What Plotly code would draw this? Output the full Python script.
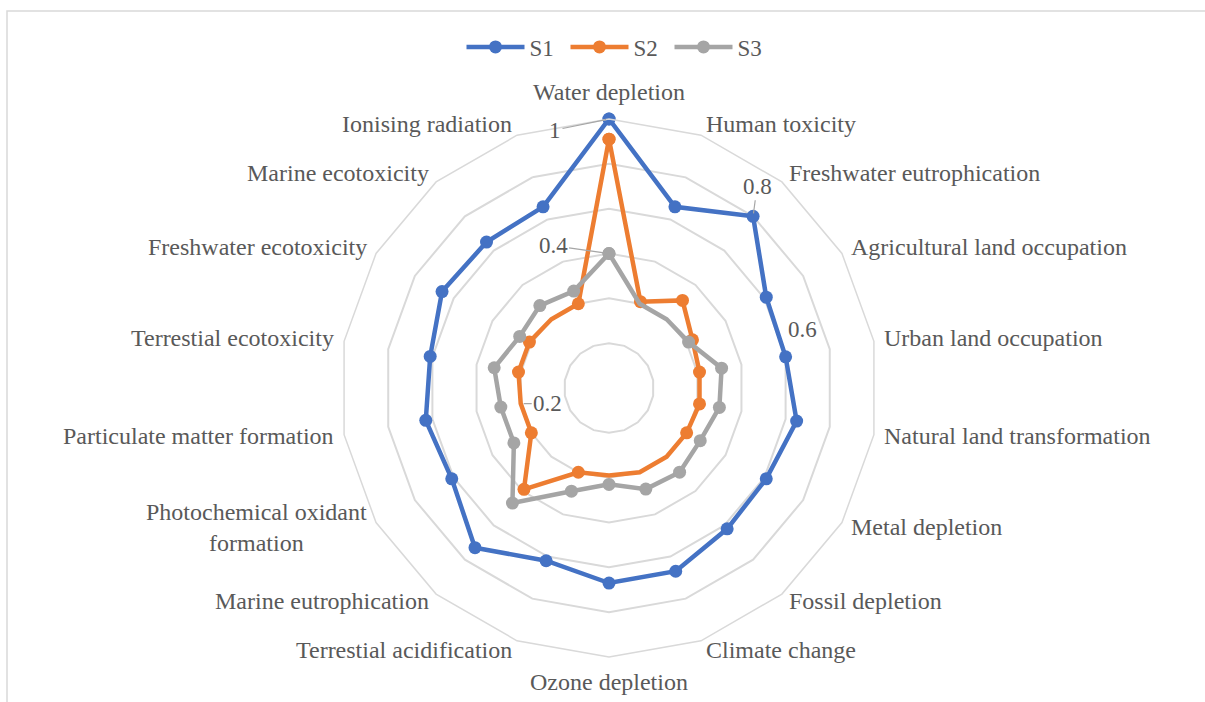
import plotly.graph_objects as go
import numpy as np

# Impact categories, clockwise from the top
categories = [
    "Water depletion",
    "Human toxicity",
    "Freshwater eutrophication",
    "Agricultural land occupation",
    "Urban land occupation",
    "Natural land transformation",
    "Metal depletion",
    "Fossil depletion",
    "Climate change",
    "Ozone depletion",
    "Terrestial acidification",
    "Marine eutrophication",
    "Photochemical oxidant<br>formation",
    "Particulate matter formation",
    "Terrestial ecotoxicity",
    "Freshwater ecotoxicity",
    "Marine ecotoxicity",
    "Ionising radiation",
]

s1 = [1.0, 0.66, 0.8, 0.61, 0.6, 0.65, 0.61, 0.62, 0.67, 0.67, 0.62, 0.73, 0.61, 0.63, 0.61, 0.66, 0.65, 0.66]
s2 = [0.91, 0.21, 0.31, 0.23, 0.21, 0.21, 0.2, 0.2, 0.2, 0.19, 0.2, 0.39, 0.2, 0.2, 0.21, 0.21, 0.2, 0.2]
s3 = [0.4, 0.2, 0.2, 0.21, 0.31, 0.3, 0.27, 0.29, 0.28, 0.23, 0.29, 0.47, 0.29, 0.29, 0.32, 0.26, 0.28, 0.26]

series_names = ["S1", "S2", "S3"]
series_colors = ["#4472C4", "#ED7D31", "#A5A5A5"]

# Radial scale
r_min, r_max, r_step = -0.2, 1.0, 0.2

# Individual value labels: (series index, category index)
value_labels = [(0, 0), (0, 2), (0, 4), (2, 0), (1, 13)]

W, H = 1205, 702
cx, cy, R = 609, 388, 269
dom_x = [(cx - R) / W, (cx + R) / W]
dom_y = [1 - (cy + R) / H, 1 - (cy - R) / H]

FONT = "Liberation Serif"
TXT = "#595959"
GRID = "#D9D9D9"
FS_CAT = 24
FS = 23

fig = go.Figure()
all_series = [s1, s2, s3]
for name, vals, color in zip(series_names, all_series, series_colors):
    fig.add_trace(go.Scatterpolar(
        r=vals + [vals[0]],
        theta=categories + [categories[0]],
        mode="lines+markers",
        name=name,
        line=dict(color=color, width=4.5),
        marker=dict(color=color, size=13),
        subplot="polar",
    ))

# hidden cartesian overlay (unit = outer radius) used to anchor text
fig.add_trace(go.Scatter(x=[], y=[], showlegend=False, hoverinfo="skip"))

n = len(categories)
annotations = []

# category labels just outside the outer ring
pad_x, pad_y = 8.5, 11
for i, cat in enumerate(categories):
    ang = np.deg2rad(i * 360.0 / n)
    sx, sy = np.sin(ang), np.cos(ang)
    if abs(sx) < 1e-6:
        xa, ya = "center", ("bottom" if sy > 0 else "top")
    else:
        xa, ya = ("left" if sx > 0 else "right"), "middle"
    annotations.append(dict(
        x=sx, y=sy, xref="x", yref="y", text=cat, showarrow=False,
        xanchor=xa, yanchor=ya, align="center",
        xshift=pad_x * sx, yshift=pad_y * sy + 1,
        font=dict(family=FONT, size=FS_CAT, color=TXT),
    ))

# value labels with leader lines
label_offsets = {(0, 0): (-54, 11, True), (0, 2): (4, -30, True), (0, 4): (17, -27, False),
                 (2, 0): (-56, -8, True), (1, 13): (27, 0, True)}
for si, ci in value_labels:
    v = all_series[si][ci]
    rn = (v - r_min) / (r_max - r_min)
    ang = np.deg2rad(ci * 360.0 / n)
    px, py = rn * np.sin(ang), rn * np.cos(ang)
    dx, dy, arrow = label_offsets[(si, ci)]
    a = dict(x=px, y=py, xref="x", yref="y", text=f"{v:g}",
             font=dict(family=FONT, size=FS, color=TXT))
    if arrow:
        a.update(showarrow=True, ax=dx, ay=dy, arrowhead=0, arrowwidth=1.2,
                 arrowcolor="#A6A6A6", standoff=3)
    else:
        a.update(showarrow=False, xshift=dx, yshift=-dy)
    annotations.append(a)

fig.update_layout(
    width=W, height=H,
    margin=dict(l=0, r=0, t=0, b=0),
    paper_bgcolor="white",
    plot_bgcolor="rgba(0,0,0,0)",
    font=dict(family=FONT, size=FS, color=TXT),
    polar=dict(
        domain=dict(x=dom_x, y=dom_y),
        bgcolor="white",
        gridshape="linear",
        radialaxis=dict(range=[r_min, r_max], dtick=r_step, tick0=0,
                        showticklabels=False, ticks="", showline=False,
                        gridcolor=GRID, gridwidth=1.5),
        angularaxis=dict(direction="clockwise", rotation=90, showgrid=False,
                         ticks="", showticklabels=False,
                         linecolor=GRID, linewidth=1.5),
    ),
    xaxis=dict(domain=dom_x, range=[-1, 1], visible=False, fixedrange=True),
    yaxis=dict(domain=dom_y, range=[-1, 1], visible=False, fixedrange=True),
    legend=dict(orientation="h", x=0.5 + 15 / W, xanchor="center", y=1 - 47 / H,
                yanchor="middle", font=dict(family=FONT, size=FS, color=TXT),
                itemwidth=58, entrywidth=31, entrywidthmode="pixels",
                bgcolor="rgba(0,0,0,0)"),
    annotations=annotations,
    shapes=[dict(type="rect", xref="paper", yref="paper",
                 x0=7 / W, x1=1.05, y0=-0.05, y1=1 - 11 / H,
                 line=dict(color=GRID, width=1.5), layer="below")],
)

fig.write_html("out.html")
